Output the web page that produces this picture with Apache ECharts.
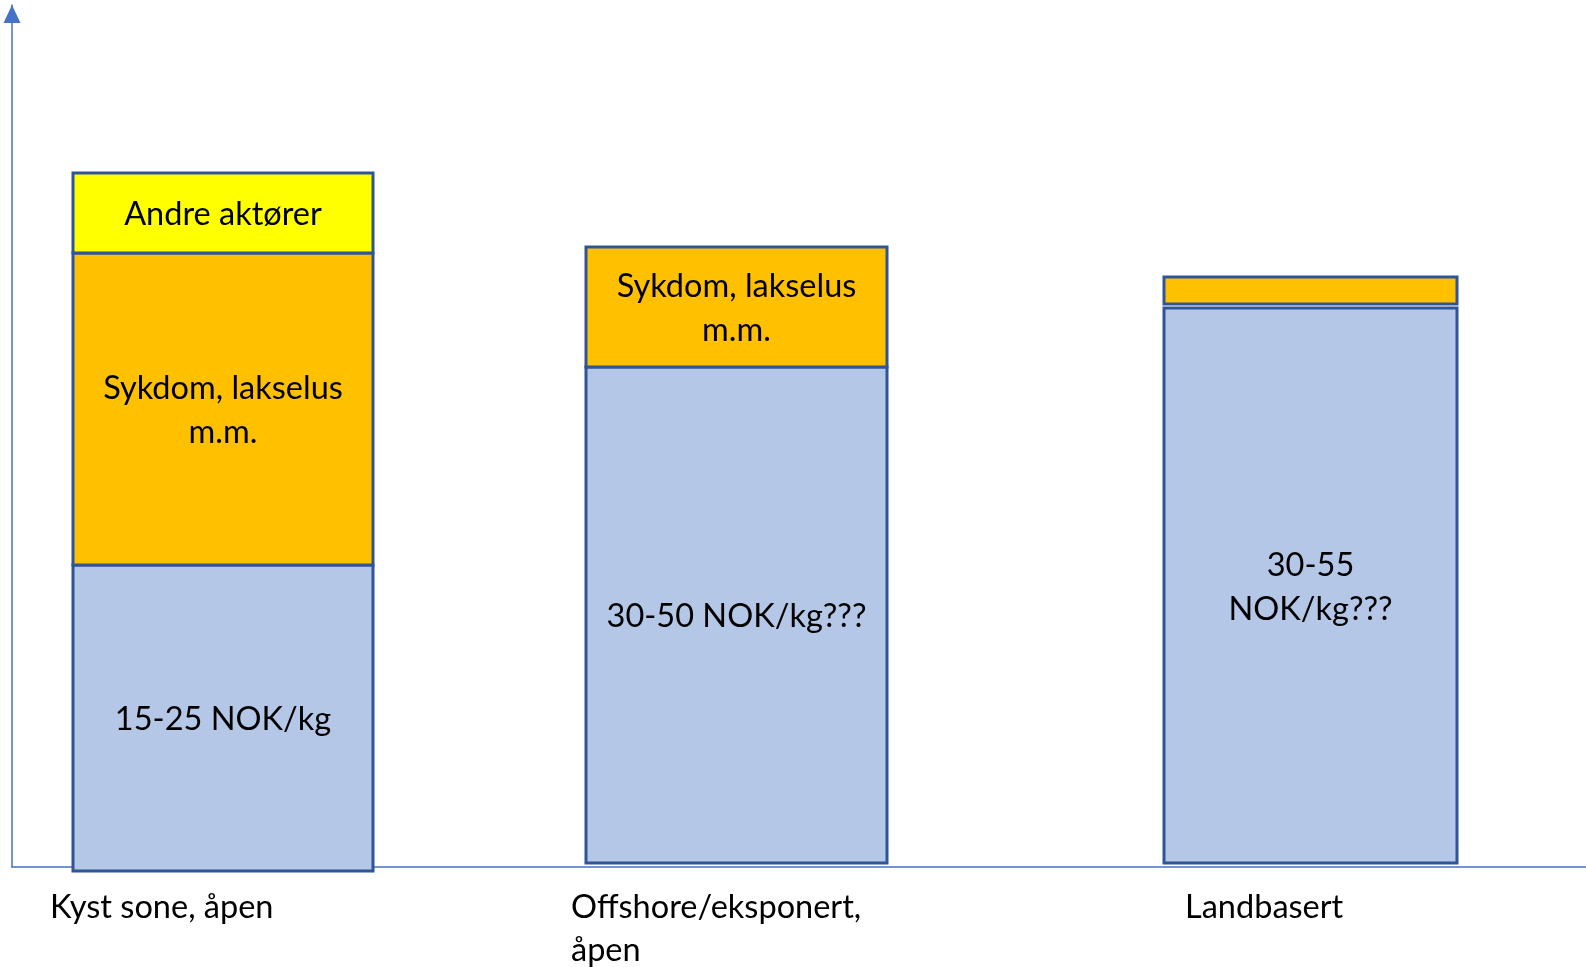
<!DOCTYPE html>
<html>
<head>
<meta charset="utf-8">
<script src="https://cdn.jsdelivr.net/npm/echarts@6/dist/echarts.min.js"></script>
<style>html,body{margin:0;padding:0;background:#fff}#c{width:1586px;height:967px}</style>
</head>
<body>
<div id="c"></div>
<script>
// ---- data ----
const categories = ['Kyst sone, åpen', 'Offshore/eksponert,\nåpen', 'Landbasert'];
const kostnad = [306, 496, 555];   // blue segment height
const sykdom = [312, 120, 27];     // orange segment height
const andre = [80, 0, 0];          // yellow segment height
const kostnadLabels = ['15-25 NOK/kg', '30-50 NOK/kg???', '30-55\nNOK/kg???'];
const sykdomLabels = ['Sykdom, lakselus\nm.m.', 'Sykdom, lakselus\nm.m.', ''];
const andreLabels = ['Andre aktører', '', ''];

// ---- layout (not data) ----
const centers = [211, 724.5, 1298.5];
const widths = [300, 301, 293];
const baseOffset = [-4, 4, 4];
const segGap = [0, 0, 4];
const labelX = [38, 559, 1173];

const FONT = 'Lato, "Open Sans", sans-serif';
const FS = 32.5;
const chart = echarts.init(document.getElementById('c'));

function renderItem(params, api) {
  const i = params.dataIndex;
  const c = centers[i], w = widths[i];
  const children = [];
  const segs = [
    { h: kostnad[i], fill: '#B4C7E7', label: kostnadLabels[i] },
    { h: sykdom[i], fill: '#FFC000', label: sykdomLabels[i] },
    { h: andre[i], fill: '#FFFF00', label: andreLabels[i] }
  ];
  let y0 = baseOffset[i];
  segs.forEach((s, k) => {
    if (!s.h) return;
    if (k > 0) y0 += segGap[i];
    const p0 = api.coord([c - w / 2, y0 + s.h]);
    const p1 = api.coord([c + w / 2, y0]);
    children.push({
      type: 'rect',
      shape: { x: p0[0], y: p0[1], width: p1[0] - p0[0], height: p1[1] - p0[1] },
      style: { fill: s.fill, stroke: '#2F5597', lineWidth: 3 }
    });
    if (s.label) {
      children.push({
        type: 'text',
        x: (p0[0] + p1[0]) / 2, y: (p0[1] + p1[1]) / 2 + 2,
        style: { text: s.label, fill: '#000', font: FS + 'px ' + FONT, align: 'center', verticalAlign: 'middle', lineHeight: 44 }
      });
    }
    y0 += s.h;
  });
  const lp = api.coord([labelX[i], -19]);
  children.push({
    type: 'text', x: lp[0], y: lp[1],
    style: { text: categories[i], fill: '#000', font: FS + 'px ' + FONT, align: 'left', verticalAlign: 'top', lineHeight: 43 }
  });
  return { type: 'group', children };
}

chart.setOption({
  animation: false,
  grid: { left: 12, right: 0, top: 5, bottom: 100 },
  xAxis: {
    type: 'value', min: 0, max: 1574,
    axisLine: { show: true, onZero: false, lineStyle: { color: '#4472C4', width: 1.5 } },
    axisTick: { show: false }, axisLabel: { show: false }, splitLine: { show: false }
  },
  yAxis: {
    type: 'value', min: 0, max: 862,
    axisLine: { show: true, symbol: ['none', 'triangle'], symbolSize: [17, 18], symbolOffset: [0, -9], lineStyle: { color: '#4472C4', width: 1.5 } },
    axisTick: { show: false }, axisLabel: { show: false }, splitLine: { show: false }
  },
  series: [{
    type: 'custom',
    renderItem,
    clip: false,
    data: categories.map((c, i) => [centers[i], kostnad[i] + sykdom[i] + andre[i]])
  }]
});
</script>
</body>
</html>
